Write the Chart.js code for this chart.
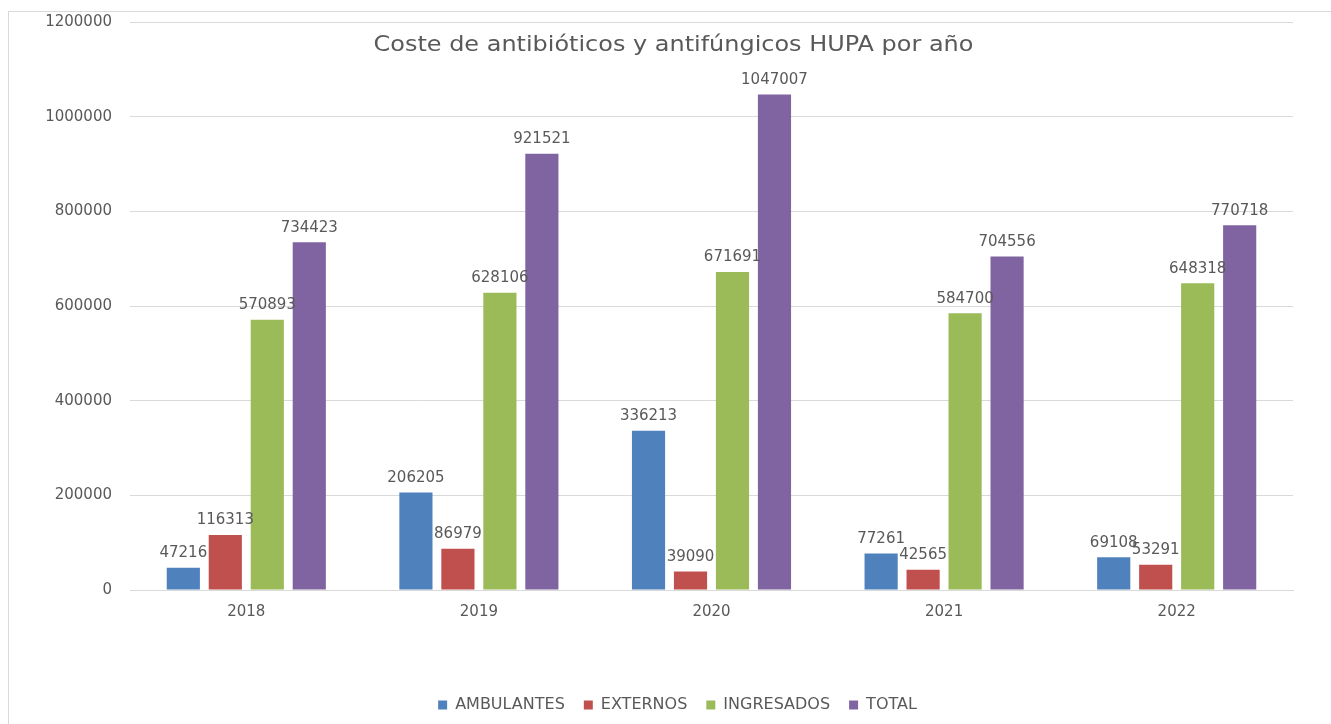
<!DOCTYPE html>
<html>
<head>
<meta charset="utf-8">
<script src="https://cdn.jsdelivr.net/npm/chart.js@4/dist/chart.umd.min.js"></script>
<style>
    html, body { margin: 0; padding: 0; background: #fff; overflow: hidden; }
    .frame { position: absolute; left: 8px; top: 11px; width: 1400px; height: 800px; border: 1px solid #d9d9d9; }
    .wrap { position: absolute; left: 0; top: 0; width: 1331px; height: 724px; }
</style>
</head>
<body>
<div class="frame"></div>
<div class="wrap"><canvas id="costChart"></canvas></div>
<script>
// Data
const years = ["2018", "2019", "2020", "2021", "2022"];
const ambulantes = [47216, 206205, 336213, 77261, 69108];
const externos = [116313, 86979, 39090, 42565, 53291];
const ingresados = [570893, 628106, 671691, 584700, 648318];
const total = [734423, 921521, 1047007, 704556, 770718];
const chartTitle = "Coste de antibióticos y antifúngicos HUPA por año";

const textColor = "#595959";
const fontFamily = "'DejaVu Sans', sans-serif";

// Value labels above bars
const barLabels = {
    id: "barLabels",
    afterDatasetsDraw(chart) {
        const ctx = chart.ctx;
        ctx.save();
        ctx.fillStyle = textColor;
        ctx.font = "15px " + fontFamily;
        ctx.textAlign = "center";
        ctx.textBaseline = "bottom";
        chart.data.datasets.forEach((ds, i) => {
            chart.getDatasetMeta(i).data.forEach((bar, j) => {
                ctx.fillText(String(ds.data[j]), bar.x, bar.y - 7);
            });
        });
        ctx.restore();
    },
};

// Title drawn over the plot area, like the original (text is a bit wide there)
const overlayTitle = {
    id: "overlayTitle",
    afterDraw(chart) {
        const ctx = chart.ctx;
        const area = chart.chartArea;
        ctx.save();
        ctx.fillStyle = textColor;
        ctx.font = "21px " + fontFamily;
        ctx.textAlign = "center";
        ctx.textBaseline = "middle";
        ctx.translate((area.left + area.right) / 2 - 38, area.top + 24);
        ctx.scale(1.14, 1);
        ctx.fillText(chartTitle, 0, 0);
        ctx.restore();
    },
};

// Legend sits a little right of the canvas centre in the original
const legendShift = {
    id: "legendShift",
    afterLayout(chart) {
        chart.legend.left += 31;
        chart.legend.right += 31;
    },
};

const ctx = document.getElementById("costChart").getContext("2d");
const costChart = new Chart(ctx, {
    type: "bar",
    data: {
        labels: years,
        datasets: [
            { label: "AMBULANTES", data: ambulantes, backgroundColor: "#4F81BD" },
            { label: "EXTERNOS", data: externos, backgroundColor: "#C0504D" },
            { label: "INGRESADOS", data: ingresados, backgroundColor: "#9BBB59" },
            { label: "TOTAL", data: total, backgroundColor: "#8064A2" },
        ],
    },
    options: {
        responsive: true,
        maintainAspectRatio: false,
        animation: false,
        datasets: {
            bar: {
                categoryPercentage: 0.722,
                barPercentage: 0.79,
            },
        },
        layout: {
            padding: { left: 0, right: 38, top: 0, bottom: 1 },
        },
        plugins: {
            title: { display: false },
            tooltip: { enabled: false },
            legend: {
                position: "bottom",
                labels: {
                    color: textColor,
                    font: { family: fontFamily, size: 16 },
                    boxWidth: 9,
                    boxHeight: 9,
                    padding: 19,
                },
            },
        },
        scales: {
            x: {
                grid: { display: false },
                border: { color: "#d9d9d9" },
                ticks: {
                    color: textColor,
                    font: { family: fontFamily, size: 15 },
                    padding: 5,
                },
                afterFit(scale) {
                    scale.height = 88;
                },
            },
            y: {
                min: 0,
                max: 1200000,
                grid: {
                    color: "#d9d9d9",
                    drawTicks: true,
                    tickLength: 5,
                    tickColor: "rgba(0,0,0,0)",
                },
                border: { display: false },
                ticks: {
                    stepSize: 200000,
                    color: textColor,
                    font: { family: fontFamily, size: 15 },
                    padding: 13,
                    callback: (value) => String(value),
                },
                afterFit(scale) {
                    scale.width = 130;
                },
            },
        },
    },
    plugins: [barLabels, overlayTitle, legendShift],
});
</script>
</body>
</html>
